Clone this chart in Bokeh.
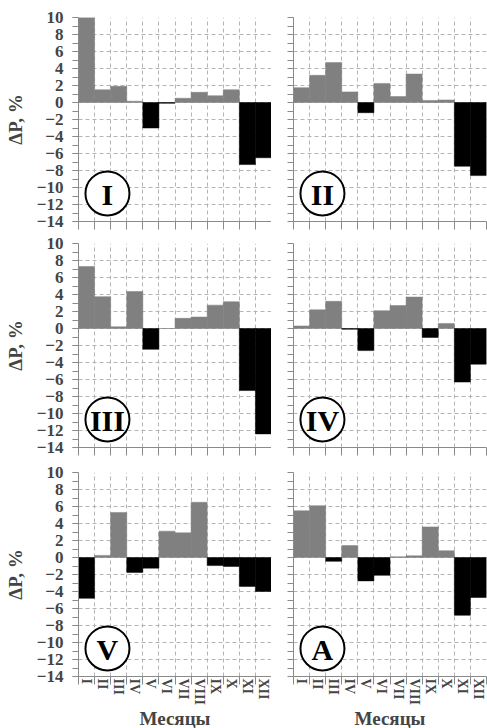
import numpy as np
from bokeh.plotting import figure
from bokeh.layouts import gridplot
from bokeh.models import Range1d, FixedTicker, ColumnDataSource
from bokeh.embed import file_html
from bokeh.resources import INLINE
from bokeh.core.properties import value

# ---------------- data ----------------
months = ["I", "II", "III", "IV", "V", "VI", "VII", "VIII", "IX", "X", "XI", "XII"]
panel_names = ["I", "II", "III", "IV", "V", "A"]

dp_I = [10.0, 1.5, 1.9, 0.15, -3.0, -0.1, 0.5, 1.2, 0.8, 1.5, -7.3, -6.5]
dp_II = [1.75, 3.2, 4.7, 1.25, -1.2, 2.25, 0.7, 3.35, 0.25, 0.3, -7.5, -8.6]
dp_III = [7.3, 3.75, 0.2, 4.35, -2.45, 0.0, 1.2, 1.35, 2.75, 3.15, -7.3, -12.4]
dp_IV = [0.3, 2.2, 3.2, -0.1, -2.6, 2.1, 2.7, 3.7, -1.05, 0.6, -6.3, -4.2]
dp_V = [-4.8, 0.25, 5.3, -1.75, -1.25, 3.1, 2.9, 6.5, -0.95, -1.05, -3.4, -4.0]
dp_A = [5.5, 6.1, -0.45, 1.4, -2.75, -2.1, 0.1, 0.2, 3.6, 0.8, -6.8, -4.7]

series = [dp_I, dp_II, dp_III, dp_IV, dp_V, dp_A]

y_min, y_max = -14, 10
y_label = "ΔP, %"
x_label = "Месяцы"

# ---------------- style ----------------
FONT = "Liberation Serif"
POS_COLOR = "#808080"
NEG_COLOR = "#000000"
GRID_COLOR = "#b4b4b4"
AXIS_COLOR = "#8a8a8a"
LABEL_POS = (1.8, -10.7)  # panel badge position in data units

n = len(months)
centers = np.arange(n) + 0.5
boundaries = list(range(0, n + 1))
evens = list(range(y_min, y_max + 1, 2))
ints = list(range(y_min, y_max + 1))

row_tops = [17, 12, 15]
row_bottoms = [10, 10, 52]


def make_panel(idx):
    row, col = divmod(idx, 2)
    vals = series[idx]
    colors = [POS_COLOR if v >= 0 else NEG_COLOR for v in vals]
    src = ColumnDataSource(dict(x=centers, top=vals, color=colors))

    p = figure(
        frame_width=193, frame_height=204,
        x_range=Range1d(0, n), y_range=Range1d(y_min, y_max),
        output_backend="svg", toolbar_location=None,
        min_border_left=78 if col == 0 else 22,
        min_border_right=0 if col == 0 else 1,
        min_border_top=row_tops[row], min_border_bottom=row_bottoms[row],
    )
    p.outline_line_color = None
    p.background_fill_color = "white"
    p.border_fill_color = "white"

    # grids
    p.xgrid.ticker = FixedTicker(ticks=boundaries)
    p.ygrid.ticker = FixedTicker(ticks=evens)
    for g in (p.xgrid, p.ygrid):
        g.grid_line_color = GRID_COLOR
        g.grid_line_dash = "4 3"
        g.grid_line_width = 1

    # bars
    p.vbar(x="x", top="top", bottom=0, width=1.0, source=src,
           fill_color="color", line_color="color", line_width=0.5)

    # x axis
    xa = p.xaxis[0]
    if row == 2:
        xa.ticker = FixedTicker(ticks=list(centers), minor_ticks=boundaries)
        xa.major_label_overrides = {float(c): m for c, m in zip(centers, months)}
        xa.major_label_orientation = "vertical"
        xa.major_label_text_font = FONT
        xa.major_label_text_font_style = "bold"
        xa.major_label_text_font_size = "14px"
        xa.major_label_standoff = -6
        xa.axis_label = x_label
        xa.axis_label_text_font = FONT
        xa.axis_label_text_font_style = "bold"
        xa.axis_label_text_font_size = "19px"
        xa.axis_label_text_line_height = 1.0
        xa.axis_label_standoff = 0
    else:
        xa.ticker = FixedTicker(ticks=[], minor_ticks=boundaries)
    xa.major_tick_out = 0
    xa.major_tick_in = 0
    xa.minor_tick_out = 8
    xa.minor_tick_in = 0
    xa.axis_line_color = AXIS_COLOR
    xa.minor_tick_line_color = AXIS_COLOR
    xa.major_tick_line_color = AXIS_COLOR

    # y axis
    ya = p.yaxis[0]
    if col == 0:
        ya.ticker = FixedTicker(ticks=evens, minor_ticks=ints)
        ya.major_label_text_font = FONT
        ya.major_label_text_font_style = "bold"
        ya.major_label_text_font_size = "17px"
        ya.major_label_standoff = 9
        ya.axis_label = y_label
        ya.axis_label_text_font = FONT
        ya.axis_label_text_font_style = "bold"
        ya.axis_label_text_font_size = "19px"
        ya.axis_label_standoff = 8
    else:
        ya.ticker = FixedTicker(ticks=[], minor_ticks=ints)
    ya.major_tick_out = 6
    ya.major_tick_in = 0
    ya.minor_tick_out = 6
    ya.minor_tick_in = 0
    ya.axis_line_color = AXIS_COLOR
    ya.major_tick_line_color = AXIS_COLOR
    ya.minor_tick_line_color = AXIS_COLOR

    # panel badge
    p.scatter(x=[LABEL_POS[0]], y=[LABEL_POS[1]], marker="circle", size=44,
              fill_color="white", line_color="black", line_width=2)
    p.text(x=[LABEL_POS[0]], y=[LABEL_POS[1]], text=[panel_names[idx]],
           text_align="center", text_baseline="middle", y_offset=1,
           text_font=value(FONT), text_font_style="bold",
           text_font_size="30px", text_color="black")
    return p


panels = [make_panel(i) for i in range(6)]
grid = gridplot([[panels[0], panels[1]], [panels[2], panels[3]], [panels[4], panels[5]]],
                toolbar_location=None)

open("out.html", "w").write(file_html(grid, INLINE))
